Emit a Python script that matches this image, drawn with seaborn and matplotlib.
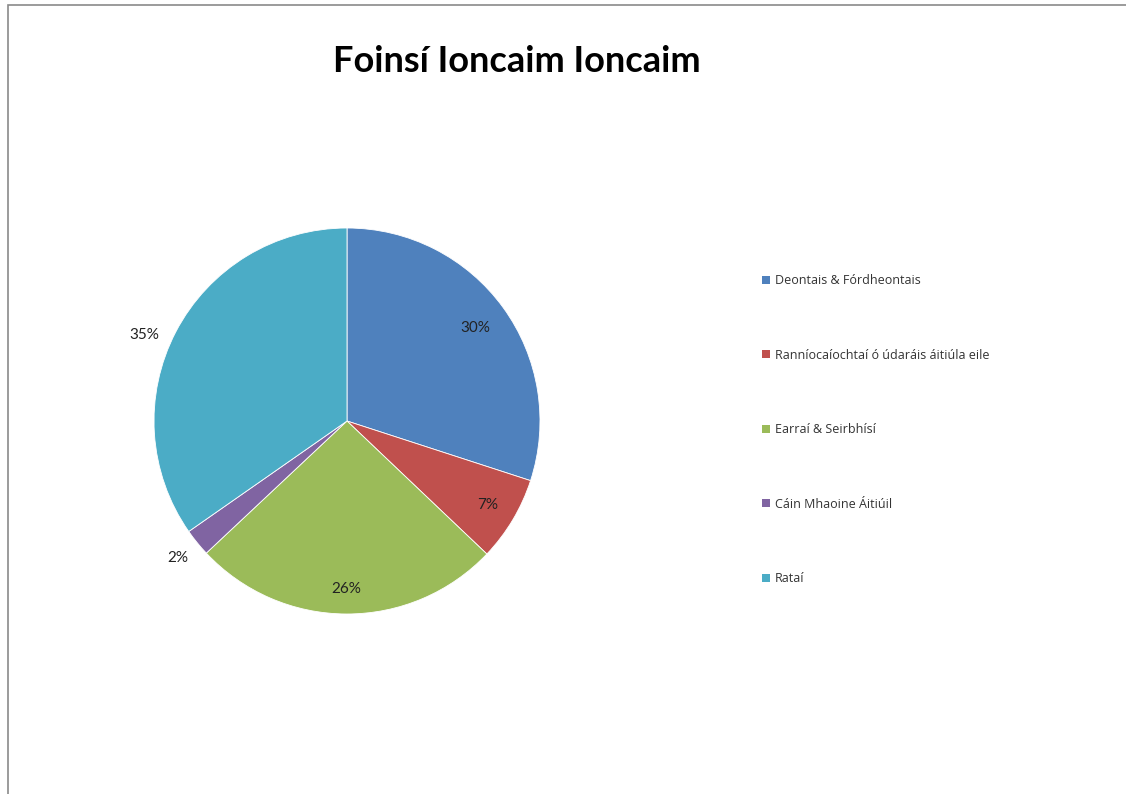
import matplotlib
matplotlib.use('Agg')
import matplotlib.pyplot as plt
import matplotlib.patches as mpatches
import numpy as np
import seaborn as sns

categories = ['Deontais & Fórdheontais', 'Ranníocaíochtaí ó údaráis áitiúla eile',
              'Earraí & Seirbhísí', 'Cáin Mhaoine Áitiúil', 'Rataí']
values = [30.0, 7.1, 25.9, 2.3, 34.7]
pct_labels = ['30%', '7%', '26%', '2%', '35%']
colors = ['#4F81BD', '#C0504D', '#9BBB59', '#8064A2', '#4BACC6']

sns.set_theme(style='white')
plt.rcParams['font.family'] = ['Lato', 'DejaVu Sans']
pal = sns.color_palette(colors)

fig = plt.figure(figsize=(11.26, 7.94), dpi=100)
ax = fig.add_axes([(347 - 193) / 1126, (794 - 421 - 193) / 794, 386 / 1126, 386 / 794])

wedges, _ = ax.pie(values, colors=pal, startangle=90, counterclock=False,
                   wedgeprops=dict(edgecolor='white', linewidth=0.6))
ax.set_xlim(-1, 1)
ax.set_ylim(-1, 1)
ax.set_aspect('equal')
ax.axis('off')

# label distance / small angle shift per slice (best-fit style placement)
dists = [0.82, 0.85, 0.87, 1.13, 1.14]
shifts = [0, 0, 0, 0, 4.5]
for w, lab, d, s in zip(wedges, pct_labels, dists, shifts):
    ang = np.deg2rad((w.theta1 + w.theta2) / 2 + s)
    ax.text(d * np.cos(ang), d * np.sin(ang), lab, ha='center', va='center',
            fontsize=11, color='#222222')

fig.text(517 / 1126, 1 - 62 / 794, 'Foinsí Ioncaim Ioncaim', ha='center', va='center',
         fontsize=26, fontweight='bold', color='black')

handles = [mpatches.Patch(facecolor=c, edgecolor='none') for c in pal]
leg = fig.legend(handles, categories, loc='upper left', bbox_to_anchor=(762 / 1126, 1 - 274 / 794),
                 frameon=False, labelspacing=4.93, handlelength=0.6,
                 handleheight=0.6, handletextpad=0.45, borderaxespad=0, borderpad=0,
                 labelcolor='#333333', prop={'family': 'Open Sans', 'size': 9})

fig.patches.append(mpatches.Rectangle((8 / 1126, -0.01), 1 - 8 / 1126 + 0.01, 1 - 5 / 794 + 0.01,
                                      transform=fig.transFigure, fill=False,
                                      edgecolor='#8a8a8a', linewidth=1.2))

fig.savefig('out.png', dpi=100)
